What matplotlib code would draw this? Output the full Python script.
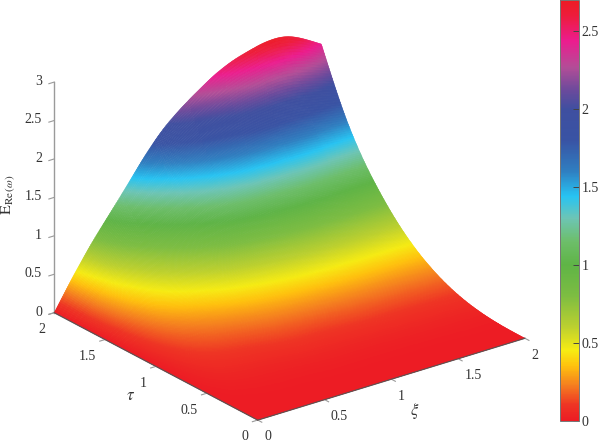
import numpy as np
import matplotlib; matplotlib.use("Agg")
import matplotlib.pyplot as plt
import matplotlib.tri as mtri
from matplotlib.cm import ScalarMappable
from matplotlib.colors import LinearSegmentedColormap, Normalize

plt.rcParams["font.family"] = ["Liberation Serif", "DejaVu Serif"]
plt.rcParams["mathtext.fontset"] = "stix"

xi = [0, 0.25, 0.5, 0.75, 1, 1.25, 1.5, 1.75, 2]
tau = [0, 0.25, 0.5, 0.75, 1, 1.25, 1.5, 1.75, 2]
# one row per tau
E_0 = [0, 0, 0, 0, 0, 0, 0, 0, 0]
E_025 = [0, .004, .005, .006, .006, .006, .006, .007, .0075]
E_05 = [0, .024, .03, .037, .04, .042, .045, .047, .051]
E_075 = [0, .067, .09, .115, .127, .139, .145, .148, .155]
E_1 = [0, .131, .2, .255, .295, .32, .333, .335, .341]
E_125 = [0, .223, .36, .475, .56, .615, .634, .635, .63]
E_15 = [0, .344, .59, .80, .96, 1.04, 1.074, 1.06, 1.04]
E_175 = [0, .496, .88, 1.22, 1.50, 1.66, 1.71, 1.68, 1.613]
E_2 = [0, .68, 1.26, 1.83, 2.22, 2.5, 2.65, 2.66, 2.43]
ticks_xy = [0, 0.5, 1, 1.5, 2]
ticks_z = [0, 0.5, 1, 1.5, 2, 2.5, 3]
ticks_cb = [0, 0.5, 1, 1.5, 2, 2.5]
VMAX = 2.7

cmap_vals = [0, 0.1, 0.22, 0.35, 0.45, 0.6, 0.8, 1.0, 1.15, 1.3, 1.44, 1.6, 1.8, 2.0, 2.12, 2.27, 2.44, 2.6, 2.7]
cmap_cols = ["#ED1C24", "#EE3524", "#F47B20", "#FFC20E", "#F7EC13", "#BCD02F", "#7DBD42", "#5FB446", "#6DBE6A",
             "#6DC5B5", "#27C4F3", "#2F7FC1", "#3953A4", "#3F4FA0", "#6A4A9C", "#B34D97", "#EC1C8E", "#ED1C3C", "#ED1C24"]
cm = LinearSegmentedColormap.from_list("ref", [(v / VMAX, c) for v, c in zip(cmap_vals, cmap_cols)], N=512)
TXT = "#333333"
GREY = "#9a9a9a"

X, Y = np.meshgrid(xi, tau)
Z = np.array([E_0, E_025, E_05, E_075, E_1, E_125, E_15, E_175, E_2])
tri = mtri.Triangulation(X.ravel(), Y.ravel())
tri_f, z_f = mtri.UniformTriRefiner(tri).refine_field(Z.ravel(), subdiv=5)
z_f = np.clip(z_f, 0, None)

fig = plt.figure(figsize=(6, 4.42), dpi=100)
ax = fig.add_axes([67.7 / 600, 10 / 442, 432 / 600, 432 / 442], projection="3d", proj_type="ortho")
ax.view_init(elev=23.7, azim=-127.3)
ax.set_box_aspect((4, 4, 3), zoom=1.208)
ax.patch.set_alpha(0)
surf = ax.plot_trisurf(tri_f, z_f, cmap=cm, vmin=0, vmax=VMAX, linewidth=0.3, antialiased=True)
surf.set_edgecolor("face")
surf.set_clip_on(False)
# dark rim along the two front edges, the axes themselves draw under the surface
ax.plot(xi, np.zeros_like(xi), E_0, color="#555555", lw=0.7, clip_on=False, zorder=10)
ax.plot(np.zeros_like(tau), tau, E_0, color="#555555", lw=0.7, clip_on=False, zorder=10)
ax.set_xlim(0, 2); ax.set_ylim(0, 2); ax.set_zlim(0, 3)
ax.set_xticks(ticks_xy); ax.set_yticks(ticks_xy); ax.set_zticks(ticks_z)
ax.set_xticklabels([str(t) for t in ticks_xy], ha="left")
ax.set_yticklabels([str(t) for t in ticks_xy], ha="right")
ax.set_zticklabels([str(t) for t in ticks_z], ha="right", va="center")
ax.grid(False)
for a in (ax.xaxis, ax.yaxis, ax.zaxis):
    a.set_pane_color((1, 1, 1, 0))
    a.pane.set_edgecolor((1, 1, 1, 0))
    a.line.set_color(GREY)
    a.line.set_linewidth(1.0)
    a.line.set_clip_on(False)
    a._axinfo["tick"]["inward_factor"] = 0.25
    a._axinfo["tick"]["outward_factor"] = 0
    a._axinfo["tick"]["color"] = GREY
    a._axinfo["tick"]["linewidth"] = {True: 0.8, False: 0.8}
    a.set_tick_params(labelsize=10, labelcolor=TXT, pad=-3, color=GREY)
    a.set_rotate_label(False)
ax.zaxis.set_ticks_position("upper")
ax.zaxis.set_label_position("upper")
ax.zaxis.set_tick_params(pad=-3.8)
ax.yaxis.set_tick_params(pad=-2.6)
ax.xaxis._axinfo["label"]["ha"] = "left"
ax.set_xlabel(r"$\xi$", fontsize=12, color=TXT, labelpad=-5.8)
ax.set_ylabel(r"$\tau$", fontsize=12, color=TXT, labelpad=-5.5)
ax.set_zlabel(r"$\mathrm{E}_{\mathrm{Re}\,(\omega)}$", fontsize=11.5, color=TXT, rotation=90, labelpad=-5)

cax = fig.add_axes([559.5 / 600, 1 - 420.7 / 442, 19.5 / 600, 420.7 / 442])
cb = fig.colorbar(ScalarMappable(Normalize(0, VMAX), cm), cax=cax, ticks=ticks_cb)
cb.ax.set_yticklabels([str(t) for t in ticks_cb])
cb.ax.tick_params(direction="in", length=4, width=0.7, color="#444444", labelsize=10, labelcolor=TXT, pad=2)
cb.outline.set_edgecolor("#777777")
cb.outline.set_linewidth(0.7)

fig.savefig("out.png", dpi=100)
